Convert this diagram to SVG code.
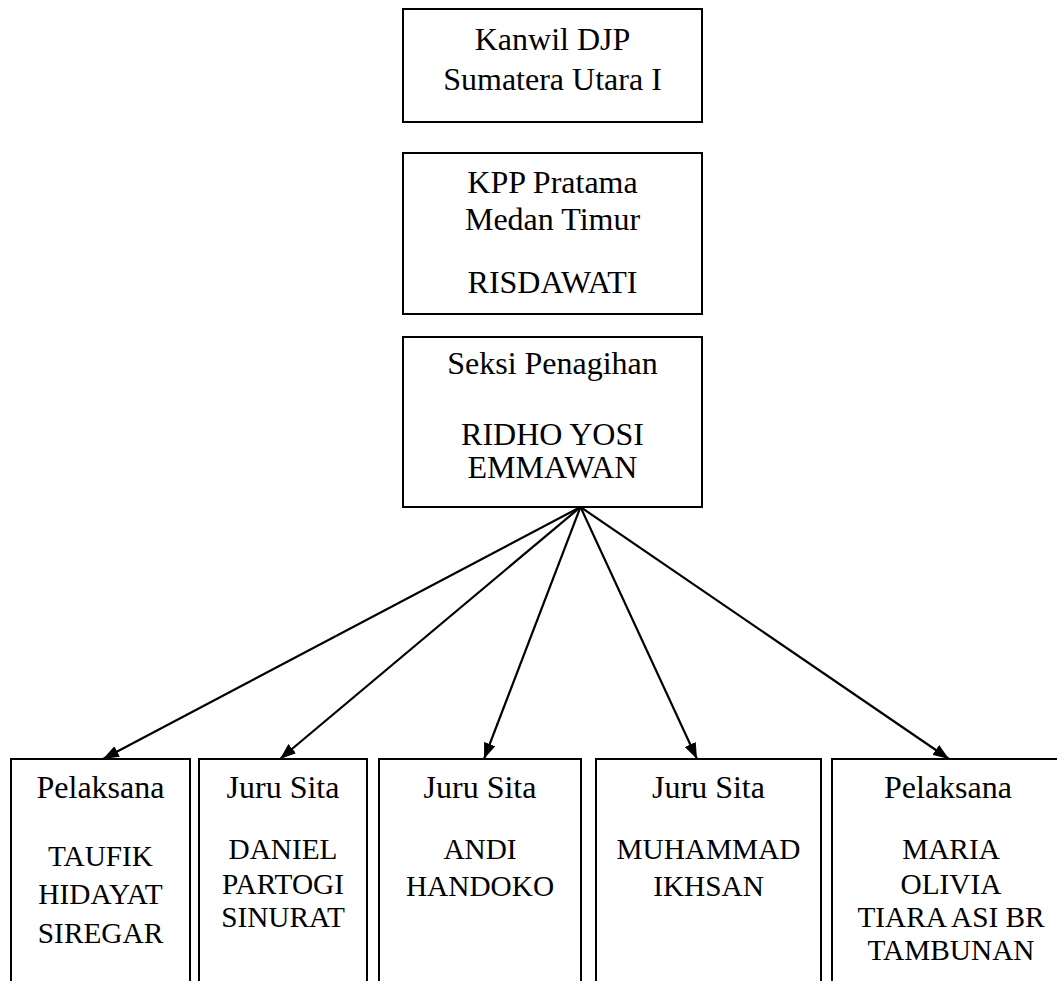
<svg xmlns="http://www.w3.org/2000/svg" width="1057" height="981" viewBox="0 0 1057 981">
<style>
.box{fill:#fff;stroke:#000;stroke-width:2}
.t{font-family:'Liberation Serif',Tinos,'DejaVu Serif',serif;font-size:32px;fill:#000;text-anchor:middle}
.n{font-size:29.3px}
.c{stroke:#000;stroke-width:2.2;fill:none;marker-end:url(#ah)}
</style>
<defs>
<marker id="ah" viewBox="0 0 16 12" refX="16" refY="6" markerWidth="16" markerHeight="12" markerUnits="userSpaceOnUse" orient="auto">
<path d="M0,0 L16,6 L0,12 z" fill="#000"/>
</marker>
</defs>
<rect width="1057" height="981" fill="#fff"/>
<g id="kanwil">
<rect class="box" x="403" y="9" width="299" height="113"/>
<text class="t" x="552.5" y="50">Kanwil DJP</text>
<text class="t" x="552.5" y="90">Sumatera Utara I</text>
</g>
<g id="kpp">
<rect class="box" x="403" y="153" width="299" height="161"/>
<text class="t" x="552.5" y="193">KPP Pratama</text>
<text class="t" x="552.5" y="230">Medan Timur</text>
<text class="t" x="552.5" y="293">RISDAWATI</text>
</g>
<g id="seksi">
<rect class="box" x="403" y="337" width="299" height="170"/>
<text class="t" x="552.5" y="374">Seksi Penagihan</text>
<text class="t" x="552.5" y="445">RIDHO YOSI</text>
<text class="t" x="552.5" y="478">EMMAWAN</text>
</g>
<g id="taufik">
<path class="box" d="M11,990 V759 H190 V990"/>
<text class="t" x="100.5" y="798">Pelaksana</text>
<text class="t n" x="100.5" y="866">TAUFIK</text>
<text class="t n" x="100.5" y="904">HIDAYAT</text>
<text class="t n" x="100.5" y="943">SIREGAR</text>
</g>
<g id="daniel">
<path class="box" d="M199,990 V759 H367 V990"/>
<text class="t" x="283" y="798">Juru Sita</text>
<text class="t n" x="283" y="859">DANIEL</text>
<text class="t n" x="283" y="894">PARTOGI</text>
<text class="t n" x="283" y="927">SINURAT</text>
</g>
<g id="andi">
<path class="box" d="M379,990 V759 H581 V990"/>
<text class="t" x="480" y="798">Juru Sita</text>
<text class="t n" x="480" y="859">ANDI</text>
<text class="t n" x="480" y="896">HANDOKO</text>
</g>
<g id="muhammad">
<path class="box" d="M596,990 V759 H821 V990"/>
<text class="t" x="708.5" y="798">Juru Sita</text>
<text class="t n" x="708.5" y="859">MUHAMMAD</text>
<text class="t n" x="708.5" y="896">IKHSAN</text>
</g>
<g id="maria">
<path class="box" d="M832,990 V759 H1070 V990"/>
<text class="t" x="948" y="798">Pelaksana</text>
<text class="t n" x="951" y="859">MARIA</text>
<text class="t n" x="951" y="894">OLIVIA</text>
<text class="t n" x="951" y="927">TIARA ASI BR</text>
<text class="t n" x="951" y="960">TAMBUNAN</text>
</g>
<g id="connectors">
<line class="c" x1="580.5" y1="507" x2="103" y2="759"/>
<line class="c" x1="580.5" y1="507" x2="280" y2="759"/>
<line class="c" x1="580.5" y1="507" x2="484" y2="759"/>
<line class="c" x1="580.5" y1="507" x2="697" y2="759"/>
<line class="c" x1="580.5" y1="507" x2="949" y2="759"/>
</g>
</svg>
